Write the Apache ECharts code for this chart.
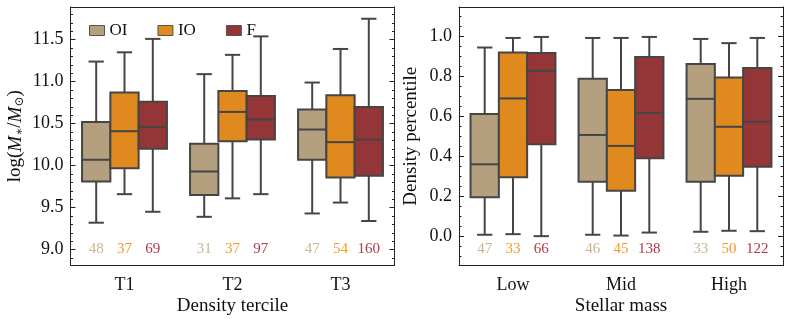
<!DOCTYPE html>
<html><head><meta charset="utf-8">
<script src="https://cdn.jsdelivr.net/npm/echarts@6/dist/echarts.min.js"></script>
<style>html,body{margin:0;padding:0;background:#fff}#c{width:789px;height:319px}</style>
</head><body><div id="c"></div>
<script>
// ---------- data ----------
const groups = ['OI', 'IO', 'F'];
const tercileCats = ['T1', 'T2', 'T3'];
const massCats = ['Low', 'Mid', 'High'];
const leftTicks = [9.0, 9.5, 10.0, 10.5, 11.0, 11.5];
const rightTicks = [0.0, 0.2, 0.4, 0.6, 0.8, 1.0];

// log(M*/Msun) per density tercile: [min, Q1, median, Q3, max]
const leftOI = [[9.32, 9.81, 10.07, 10.52, 11.24], [9.39, 9.65, 9.93, 10.26, 11.09], [9.43, 10.07, 10.43, 10.67, 10.99]];
const leftIO = [[9.66, 9.97, 10.41, 10.87, 11.35], [9.61, 10.29, 10.64, 10.89, 11.32], [9.56, 9.86, 10.28, 10.84, 11.39]];
const leftF  = [[9.45, 10.20, 10.46, 10.76, 11.51], [9.66, 10.31, 10.55, 10.83, 11.54], [9.34, 9.88, 10.31, 10.70, 11.75]];
const leftCountOI = [48, 31, 47];
const leftCountIO = [37, 37, 54];
const leftCountF  = [69, 97, 160];

// density percentile per stellar-mass bin: [min, Q1, median, Q3, max]
const rightOI = [[0.007, 0.195, 0.36, 0.612, 0.945], [0.007, 0.273, 0.507, 0.788, 0.993], [0.022, 0.273, 0.688, 0.863, 0.988]];
const rightIO = [[0.010, 0.295, 0.69, 0.920, 0.993], [0.003, 0.227, 0.452, 0.732, 0.993], [0.027, 0.303, 0.548, 0.795, 0.967]];
const rightF  = [[0.000, 0.460, 0.828, 0.917, 0.998], [0.018, 0.390, 0.617, 0.898, 0.998], [0.025, 0.348, 0.573, 0.843, 0.993]];
const rightCountOI = [47, 46, 33];
const rightCountIO = [33, 45, 50];
const rightCountF  = [66, 138, 122];

// ---------- style ----------
const FONT = '"Liberation Serif", "DejaVu Serif", serif';
const boxColors = ['#b4a07e', '#e0891f', '#943538'];
const countColors = ['#c9b48f', '#f59a20', '#b23a45'];
const EDGE = '#454545';
const BOXW = 0.262;        // box width as fraction of category band
const LEFT_COUNT_Y = 9.0;
const RIGHT_COUNT_Y = -0.066;

function minorValues(lo, hi, step) {
  const out = [];
  for (let v = Math.ceil(lo / step) * step; v <= hi + 1e-9; v += step) out.push(Math.round(v * 1000) / 1000);
  return out;
}

function boxRender(k) {
  return function (params, api) {
    const cat = api.value(0);
    const band = api.size([1, 0])[0];
    const w = band * BOXW;
    const cx = api.coord([cat, api.value(3)])[0] + (k - 1) * w;
    const y = i => api.coord([cat, api.value(i)])[1];
    const yMin = y(1), yQ1 = y(2), yMed = y(3), yQ3 = y(4), yMax = y(5);
    const ls = { stroke: EDGE, lineWidth: 2 };
    const cap = w * 0.27;
    return {
      type: 'group', children: [
        { type: 'line', shape: { x1: cx, y1: yQ1, x2: cx, y2: yMin }, style: ls },
        { type: 'line', shape: { x1: cx, y1: yQ3, x2: cx, y2: yMax }, style: ls },
        { type: 'line', shape: { x1: cx - cap, y1: yMin, x2: cx + cap, y2: yMin }, style: ls },
        { type: 'line', shape: { x1: cx - cap, y1: yMax, x2: cx + cap, y2: yMax }, style: ls },
        { type: 'rect', shape: { x: cx - w / 2, y: yQ3, width: w, height: yQ1 - yQ3 },
          style: { fill: boxColors[k], stroke: EDGE, lineWidth: 2 } },
        { type: 'line', shape: { x1: cx - w / 2, y1: yMed, x2: cx + w / 2, y2: yMed }, style: ls }
      ]
    };
  };
}
function countRender(k, yVal) {
  return function (params, api) {
    const cat = api.value(0);
    const band = api.size([1, 0])[0];
    const w = band * BOXW;
    const p = api.coord([cat, yVal]);
    return {
      type: 'text', x: p[0] + (k - 1) * w, y: p[1],
      style: { text: String(api.value(1)), fill: countColors[k], font: '15px ' + FONT,
               align: 'center', verticalAlign: 'middle' }
    };
  };
}
function boxSeries(name, k, stats, xIdx, yIdx) {
  return {
    type: 'custom', name: name, xAxisIndex: xIdx, yAxisIndex: yIdx,
    itemStyle: { color: boxColors[k] },
    encode: { x: 0, y: [1, 2, 3, 4, 5] },
    data: stats.map((s, i) => [i].concat(s)),
    renderItem: boxRender(k), silent: true
  };
}
function countSeries(k, counts, xIdx, yIdx, yVal) {
  return {
    type: 'custom', name: 'n' + k + '_' + xIdx, xAxisIndex: xIdx, yAxisIndex: yIdx,
    encode: { x: 0, y: 1 },
    data: counts.map((c, i) => [i, c]),
    renderItem: countRender(k, yVal), silent: true, z: 5
  };
}

const axisLine = { show: true, onZero: false, lineStyle: { color: '#222', width: 1 } };
function catAxes(cats, grid, name) {
  return [
    { type: 'category', gridIndex: grid, data: cats, position: 'bottom',
      axisLine: axisLine, axisTick: { inside: true, alignWithLabel: true, length: 5, lineStyle: { color: '#222' } },
      axisLabel: { color: '#111', fontFamily: FONT, fontSize: 18, margin: 11 },
      name: name, nameLocation: 'middle', nameGap: 31, nameMoveOverlap: false,
      nameTextStyle: { color: '#111', fontFamily: FONT, fontSize: 19 },
      splitLine: { show: false } },
    { type: 'category', gridIndex: grid, data: cats, position: 'top',
      axisLine: axisLine, axisTick: { inside: true, alignWithLabel: true, length: 5, lineStyle: { color: '#222' } },
      axisLabel: { show: false }, splitLine: { show: false } }
  ];
}
// four value axes per grid: left major (labels), right major, left minor, right minor
function valAxes(grid, min, max, ticks, minorStep, name, nameGap, rich) {
  const minors = minorValues(min, max, minorStep);
  const base = { type: 'value', gridIndex: grid, min: min, max: max,
    splitLine: { show: false } };
  const tickStyle = { color: '#222', width: 1 };
  return [
    Object.assign({}, base, { position: 'left', axisLine: axisLine,
      axisTick: { show: true, inside: true, length: 5, lineStyle: tickStyle, customValues: ticks },
      axisLabel: { color: '#111', fontFamily: FONT, fontSize: 18, margin: 7,
                   customValues: ticks, formatter: v => v.toFixed(1) },
      name: name, nameLocation: 'middle', nameGap: nameGap,
      nameTextStyle: Object.assign({ color: '#111', fontFamily: FONT, fontSize: 19 }, rich ? { rich: rich } : {}) }),
    Object.assign({}, base, { position: 'right', axisLine: axisLine,
      axisTick: { show: true, inside: true, length: 5, lineStyle: tickStyle, customValues: ticks },
      axisLabel: { show: false } }),
    Object.assign({}, base, { position: 'left', axisLine: { show: false },
      axisTick: { show: true, inside: true, length: 2.5, lineStyle: tickStyle, customValues: minors },
      axisLabel: { show: false } }),
    Object.assign({}, base, { position: 'right', axisLine: { show: false },
      axisTick: { show: true, inside: true, length: 2.5, lineStyle: tickStyle, customValues: minors },
      axisLabel: { show: false } })
  ];
}

const massRich = {
  i: { fontStyle: 'italic', fontFamily: FONT, fontSize: 19, color: '#111' },
  s: { fontFamily: FONT, fontSize: 12, color: '#111', verticalAlign: 'bottom', padding: [8, 0, 0, 0] }
};

const option = {
  animation: false,
  backgroundColor: '#fff',
  legend: {
    data: groups, left: 84, top: 17, icon: 'rect', itemWidth: 15, itemHeight: 10, itemGap: 30,
    textStyle: { color: '#111', fontFamily: FONT, fontSize: 17 },
    itemStyle: { borderColor: '#555', borderWidth: 1 }
  },
  grid: [
    { left: 70.5, right: 394.5, top: 7, bottom: 53.5, outerBoundsMode: 'none', containLabel: false },
    { left: 459, right: 6, top: 7, bottom: 53.5, outerBoundsMode: 'none', containLabel: false }
  ],
  xAxis: [].concat(catAxes(tercileCats, 0, 'Density tercile'), catAxes(massCats, 1, 'Stellar mass')),
  yAxis: [].concat(
    valAxes(0, 8.81, 11.89, leftTicks, 0.1, 'log({i|M}{s|∗}/{i|M}{s|⊙})', 45, massRich),
    valAxes(1, -0.147, 1.148, rightTicks, 0.05, 'Density percentile', 38, null)
  ),
  series: [
    boxSeries('OI', 0, leftOI, 0, 0), boxSeries('IO', 1, leftIO, 0, 0), boxSeries('F', 2, leftF, 0, 0),
    countSeries(0, leftCountOI, 0, 0, LEFT_COUNT_Y), countSeries(1, leftCountIO, 0, 0, LEFT_COUNT_Y), countSeries(2, leftCountF, 0, 0, LEFT_COUNT_Y),
    boxSeries('OI', 0, rightOI, 2, 4), boxSeries('IO', 1, rightIO, 2, 4), boxSeries('F', 2, rightF, 2, 4),
    countSeries(0, rightCountOI, 2, 4, RIGHT_COUNT_Y), countSeries(1, rightCountIO, 2, 4, RIGHT_COUNT_Y), countSeries(2, rightCountF, 2, 4, RIGHT_COUNT_Y)
  ]
};
const chart = echarts.init(document.getElementById('c'), null, { renderer: 'canvas' });
chart.setOption(option);
</script>
</body></html>
